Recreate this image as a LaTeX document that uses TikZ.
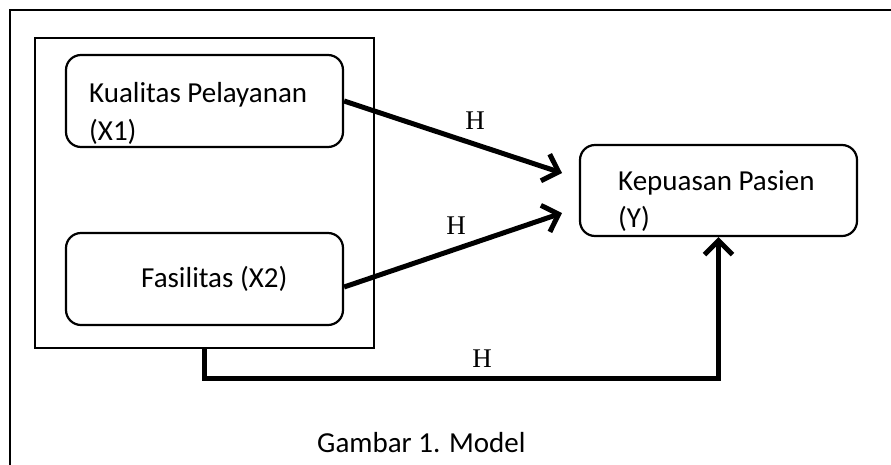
\documentclass[tikz,border=0pt]{standalone}
\usepackage{fontspec}
\setmainfont{Carlito}
\newfontfamily\hfont{Liberation Serif}
\usetikzlibrary{arrows.meta}
\begin{document}
\begin{tikzpicture}[x=1pt,y=-1pt,
  box/.style={draw,line width=2.2pt,rounded corners=15pt,minimum width=277pt,minimum height=92pt,inner sep=0pt},
  lbl/.style={font=\fontsize{29}{34}\selectfont,anchor=base west,inner sep=0pt},
  hl/.style={font=\hfont\fontsize{27}{30}\selectfont,inner sep=0pt},
  conn/.style={line width=5pt,-{Straight Barb[length=14pt,width=28pt]}}]
\useasboundingbox (0,0) rectangle (891,464);
\clip (0,0) rectangle (891,464);
\draw[line width=2.5pt] (10,480) -- (10,10) -- (900,10);
\node[draw,line width=2.2pt,minimum width=339pt,minimum height=310pt,inner sep=0pt] (grp) at (204.5,193) {};
\node[box] (b1) at (204.5,101) {};
\node[box] (b2) at (204.5,279) {};
\node[box,minimum height=91pt] (Y) at (718.5,190.5) {};
\node[lbl] (t1) at (89,102) {Kualitas Pelayanan};
\node[lbl] (t1b) at (89,140) {(X1)};
\node[lbl] (t2) at (141,287) {Fasilitas (X2)};
\node[lbl] (t3) at (618,190) {Kepuasan Pasien};
\node[lbl] (t3b) at (618,227) {(Y)};
\node[lbl] (cap) at (317,452) {Gambar 1. Model};
\coordinate (e1) at (562,173);
\coordinate (e2) at (562,213);
\draw[conn] (b1.east) -- (e1);
\draw[conn] ([yshift=-8pt]b2.east) -- (e2);
\draw[conn] (grp.south) -- ++(0,29) -| (Y.south);
\node[hl] (h1) at (475,121) {H};
\node[hl] (h2) at (456,226) {H};
\node[hl] (h3) at (482,359) {H};
\end{tikzpicture}
\end{document}
